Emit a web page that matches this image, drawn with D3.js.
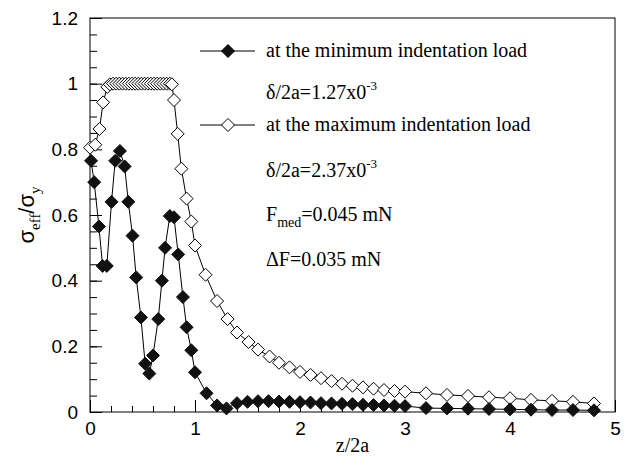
<!DOCTYPE html>
<html>
<head>
<meta charset="utf-8">
<script src="https://cdn.jsdelivr.net/npm/d3@7"></script>
<style>
  body { margin: 0; background: #fff; }
  svg { display: block; }
</style>
</head>
<body>
<script>
// filled diamonds: at the minimum indentation load
var minX = [0.01, 0.04, 0.085, 0.12, 0.16, 0.205, 0.24, 0.285, 0.33, 0.365, 0.405, 0.44, 0.485, 0.525, 0.565, 0.60, 0.65, 0.685, 0.715, 0.76, 0.80,
	0.84, 0.885, 0.92, 0.965, 1.0, 1.11, 1.21, 1.30, 1.40, 1.50, 1.60, 1.70, 1.80, 1.90, 2.0, 2.1, 2.2, 2.3, 2.4, 2.5, 2.6, 2.7, 2.8, 2.9, 3.0,
	3.2, 3.4, 3.6, 3.8, 4.0, 4.2, 4.4, 4.6, 4.8];
var minY = [0.765, 0.70, 0.565, 0.445, 0.445, 0.64, 0.765, 0.795, 0.748, 0.64, 0.537, 0.41, 0.288, 0.147, 0.117, 0.172, 0.283, 0.40, 0.50, 0.597, 0.593,
	0.48, 0.35, 0.258, 0.188, 0.121, 0.057, 0.02, 0.011, 0.027, 0.031, 0.033, 0.033, 0.032, 0.031, 0.030, 0.029, 0.027, 0.026, 0.025, 0.024, 0.022, 0.021, 0.020, 0.019, 0.018,
	0.012, 0.011, 0.010, 0.009, 0.008, 0.007, 0.006, 0.006, 0.005];

// open diamonds: at the maximum indentation load
var maxX = [0.0, 0.05, 0.09, 0.125, 0.165, 0.19, 0.22, 0.25, 0.28, 0.31, 0.34, 0.37, 0.40, 0.43, 0.46, 0.49, 0.52, 0.55, 0.58, 0.61, 0.64, 0.67, 0.70, 0.73, 0.76, 0.78,
	0.80, 0.835, 0.87, 0.92, 0.965, 1.0, 1.10, 1.21, 1.31, 1.40, 1.51, 1.60, 1.71, 1.80, 1.90, 2.0, 2.1, 2.2, 2.3, 2.4, 2.5, 2.6, 2.7, 2.8, 2.9, 3.0,
	3.2, 3.4, 3.6, 3.8, 4.0, 4.2, 4.4, 4.6, 4.8];
var maxY = [0.805, 0.814, 0.862, 0.943, 0.99, 0.998, 1.0, 1.0, 1.0, 1.0, 1.0, 1.0, 1.0, 1.0, 1.0, 1.0, 1.0, 1.0, 1.0, 1.0, 1.0, 1.0, 1.0, 1.0, 1.0, 0.998,
	0.95, 0.847, 0.741, 0.65, 0.58, 0.507, 0.418, 0.338, 0.283, 0.242, 0.213, 0.19, 0.169, 0.15, 0.136, 0.122, 0.113, 0.103, 0.094, 0.086, 0.08, 0.075, 0.071, 0.067, 0.064, 0.062,
	0.057, 0.052, 0.049, 0.045, 0.042, 0.037, 0.034, 0.031, 0.026];

var xTicks = [0, 1, 2, 3, 4, 5];
var yTicks = [0, 0.2, 0.4, 0.6, 0.8, 1, 1.2];

var W = 632, H = 460;
var mLeft = 90, mRight = 615, mTop = 18, mBottom = 412;

var x = d3.scaleLinear().domain([0, 5]).range([mLeft, mRight]);
var y = d3.scaleLinear().domain([0, 1.2]).range([mBottom, mTop]);

var svg = d3.select("body").append("svg")
	.attr("width", W)
	.attr("height", H);

var serif = "'Liberation Serif', 'Times New Roman', serif";
var sans = "'Liberation Sans', Arial, sans-serif";
var serifSize = "20px";

// axes, ticks pointing inwards
var xAxis = d3.axisBottom(x)
	.tickValues(d3.range(0, 5.01, 0.2))
	.tickSize(-6)
	.tickFormat("");
svg.append("g").attr("transform", "translate(0," + mBottom + ")").call(xAxis);

var xMajor = d3.axisBottom(x)
	.tickValues(xTicks)
	.tickSize(-12)
	.tickPadding(10)
	.tickFormat(d3.format("d"));
svg.append("g").attr("class", "xmaj").attr("transform", "translate(0," + mBottom + ")").call(xMajor);

var yAxis = d3.axisLeft(y)
	.tickValues(d3.range(0, 1.201, 0.05))
	.tickSize(-7)
	.tickFormat("");
svg.append("g").attr("transform", "translate(" + mLeft + ",0)").call(yAxis);

var yMajor = d3.axisLeft(y)
	.tickValues(yTicks)
	.tickSize(-12)
	.tickPadding(12)
	.tickFormat(function(d) { return d == 0 || d == 1 ? d3.format("d")(d) : d3.format(".1f")(d); });
svg.append("g").attr("class", "ymaj").attr("transform", "translate(" + mLeft + ",0)").call(yMajor);

svg.selectAll(".domain").remove();
svg.selectAll(".tick line").attr("stroke", "#000").attr("stroke-width", 1);
svg.selectAll(".xmaj text, .ymaj text")
	.style("font-family", sans)
	.style("font-size", "19px")
	.attr("fill", "#000");

// frame
svg.append("rect")
	.attr("x", mLeft).attr("y", mTop)
	.attr("width", mRight - mLeft).attr("height", mBottom - mTop)
	.attr("fill", "none").attr("stroke", "#000").attr("stroke-width", 1);

var diamond = "M0,-6.5L6.5,0L0,6.5L-6.5,0Z";
var line = d3.line().x(function(d) { return x(d[0]); }).y(function(d) { return y(d[1]); });

var maxData = maxX.map(function(v, i) { return [v, maxY[i]]; });
var minData = minX.map(function(v, i) { return [v, minY[i]]; });

svg.append("path").datum(maxData)
	.attr("d", line).attr("fill", "none").attr("stroke", "#000").attr("stroke-width", 1);
svg.selectAll(".open").data(maxData).enter().append("path")
	.attr("class", "open")
	.attr("d", diamond)
	.attr("transform", function(d) { return "translate(" + x(d[0]) + "," + y(d[1]) + ")"; })
	.attr("fill", "#fff").attr("stroke", "#000").attr("stroke-width", 1);

svg.append("path").datum(minData)
	.attr("d", line).attr("fill", "none").attr("stroke", "#000").attr("stroke-width", 1);
svg.selectAll(".filled").data(minData).enter().append("path")
	.attr("class", "filled")
	.attr("d", diamond)
	.attr("transform", function(d) { return "translate(" + x(d[0]) + "," + y(d[1]) + ")"; })
	.attr("fill", "#111").attr("stroke", "#111").attr("stroke-width", 1);

// legend
function legendRow(yy, filled, label) {
	svg.append("line").attr("x1", 200).attr("x2", 255).attr("y1", yy).attr("y2", yy)
		.attr("stroke", "#000").attr("stroke-width", 1);
	svg.append("path").attr("d", diamond)
		.attr("transform", "translate(228," + yy + ")")
		.attr("fill", filled ? "#111" : "#fff").attr("stroke", "#000");
	svg.append("text").attr("x", 266).attr("y", yy + 6)
		.style("font-family", serif).style("font-size", serifSize)
		.text(label);
}
legendRow(51, true, "at the minimum indentation load");
legendRow(125, false, "at the maximum indentation load");

function supText(yy, main, sup) {
	var t = svg.append("text").attr("x", 266).attr("y", yy)
		.style("font-family", serif).style("font-size", serifSize);
	t.append("tspan").text(main);
	t.append("tspan").attr("dy", -9).style("font-size", "13px").text(sup);
}
supText(99, "δ/2a=1.27x0", "-3");
supText(177, "δ/2a=2.37x0", "-3");

var fm = svg.append("text").attr("x", 266).attr("y", 221)
	.style("font-family", serif).style("font-size", serifSize);
fm.append("tspan").text("F");
fm.append("tspan").attr("dy", 6).style("font-size", "14px").text("med");
fm.append("tspan").attr("dy", -6).text("=0.045 mN");

svg.append("text").attr("x", 266).attr("y", 266)
	.style("font-family", serif).style("font-size", serifSize)
	.text("ΔF=0.035 mN");

// axis titles
svg.append("text")
	.attr("x", (mLeft + mRight) / 2).attr("y", 452)
	.attr("text-anchor", "middle")
	.style("font-family", serif).style("font-size", serifSize)
	.text("z/2a");

var yl = svg.append("text")
	.attr("text-anchor", "middle")
	.attr("transform", "translate(34," + ((mTop + mBottom) / 2) + ")rotate(-90)")
	.style("font-family", sans).style("font-size", "22px");
yl.append("tspan").text("σ");
yl.append("tspan").attr("dy", 6).style("font-size", "15px").style("font-family", serif).text("eff");
yl.append("tspan").attr("dy", -6).text("/σ");
yl.append("tspan").attr("dy", 6).style("font-size", "15px").style("font-family", serif).text("y");
</script>
</body>
</html>
